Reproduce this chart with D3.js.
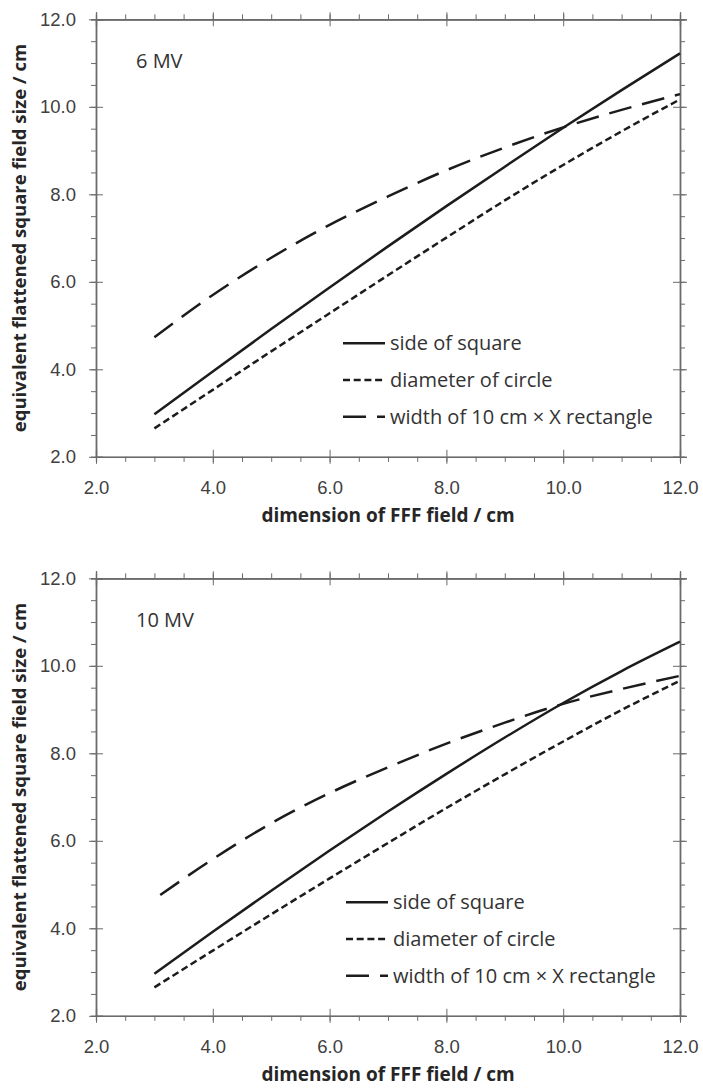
<!DOCTYPE html>
<html>
<head>
<meta charset="utf-8">
<script src="https://cdn.jsdelivr.net/npm/d3@7"></script>
<style>
  body { margin: 0; background: #fff; }
  svg { display: block; font-family: "Open Sans", sans-serif; }
  .tick text { fill: #404040; font-size: 18.5px; }
  .domain { stroke: #6a6a6a; }
  .tick line { stroke: #6a6a6a; }
</style>
</head>
<body>
<div id="chart"></div>
<script>
// field dimension (x) values
var fieldDims = [3, 4, 5, 6, 7, 8, 9, 10, 11, 12];
var rectDims10 = [3.1, 4, 5, 6, 7, 8, 9, 10, 11, 12];

// 6 MV
var square6 = [2.97, 3.95, 4.92, 5.87, 6.81, 7.73, 8.63, 9.52, 10.38, 11.22];
var circle6 = [2.65, 3.53, 4.41, 5.28, 6.15, 7.01, 7.86, 8.67, 9.44, 10.17];
var rect6   = [4.73, 5.70, 6.55, 7.30, 7.95, 8.55, 9.07, 9.53, 9.93, 10.29];

// 10 MV
var square10 = [2.96, 3.92, 4.86, 5.78, 6.67, 7.53, 8.36, 9.15, 9.88, 10.55];
var circle10 = [2.65, 3.49, 4.32, 5.14, 5.95, 6.75, 7.52, 8.27, 8.99, 9.66];
var rect10   = [4.76, 5.58, 6.40, 7.09, 7.68, 8.22, 8.70, 9.13, 9.47, 9.77];

var majorTicks = [2, 4, 6, 8, 10, 12];
var minorTicks = d3.range(2, 12.01, 0.5);
var seriesNames = ["side of square", "diameter of circle", "width of 10 cm \u00d7 X rectangle"];
var dashes = [null, "7,3.7", "23,11"];

var panels = [
  { label: "6 MV", top: 19.3, legX: 343, xs: [fieldDims, fieldDims, fieldDims], ys: [square6, circle6, rect6] },
  { label: "10 MV", top: 578.3, legX: 346, xs: [fieldDims, fieldDims, rectDims10], ys: [square10, circle10, rect10] }
];

var W = 703, H = 1088;
var left = 96, right = 680, plotH = 437.5;

var svg = d3.select("#chart").append("svg")
    .attr("width", W)
    .attr("height", H);

var x = d3.scaleLinear().domain([2, 12]).range([left, right]);
var fmt = d3.format(".1f");

panels.forEach(function(p) {
  var y = d3.scaleLinear().domain([2, 12]).range([p.top + plotH, p.top]);
  var g = svg.append("g");
  var bottom = p.top + plotH;

  // minor ticks, outside
  g.append("g").attr("transform", "translate(0," + bottom + ")")
    .call(d3.axisBottom(x).tickValues(minorTicks).tickSize(5).tickFormat(""));
  g.append("g").attr("transform", "translate(0," + p.top + ")")
    .call(d3.axisTop(x).tickValues(minorTicks).tickSize(5).tickFormat(""));
  g.append("g").attr("transform", "translate(" + left + ",0)")
    .call(d3.axisLeft(y).tickValues(minorTicks).tickSize(5).tickFormat(""));
  g.append("g").attr("transform", "translate(" + right + ",0)")
    .call(d3.axisRight(y).tickValues(minorTicks).tickSize(5).tickFormat(""));

  // major ticks crossing the frame
  g.append("g").attr("transform", "translate(0," + bottom + ")")
    .call(d3.axisBottom(x).tickValues(majorTicks).tickSize(7).tickSizeOuter(0).tickPadding(17).tickFormat(fmt));
  g.append("g").attr("transform", "translate(0," + bottom + ")")
    .call(d3.axisTop(x).tickValues(majorTicks).tickSize(7).tickFormat(""));
  g.append("g").attr("transform", "translate(0," + p.top + ")")
    .call(d3.axisTop(x).tickValues(majorTicks).tickSize(7).tickFormat(""));
  g.append("g").attr("transform", "translate(0," + p.top + ")")
    .call(d3.axisBottom(x).tickValues(majorTicks).tickSize(7).tickFormat(""));
  g.append("g").attr("transform", "translate(" + left + ",0)")
    .call(d3.axisLeft(y).tickValues(majorTicks).tickSize(7).tickSizeOuter(0).tickPadding(13).tickFormat(fmt));
  g.append("g").attr("transform", "translate(" + left + ",0)")
    .call(d3.axisRight(y).tickValues(majorTicks).tickSize(7).tickFormat(""));
  g.append("g").attr("transform", "translate(" + right + ",0)")
    .call(d3.axisRight(y).tickValues(majorTicks).tickSize(7).tickFormat(""));
  g.append("g").attr("transform", "translate(" + right + ",0)")
    .call(d3.axisLeft(y).tickValues(majorTicks).tickSize(7).tickFormat(""));

  g.selectAll(".domain").attr("stroke-width", 1.3);

  // series
  p.ys.forEach(function(vals, i) {
    var pts = vals.map(function(v, j) { return [p.xs[i][j], v]; });
    var line = d3.line()
      .x(function(d) { return x(d[0]); })
      .y(function(d) { return y(d[1]); })
      .curve(d3.curveMonotoneX);
    g.append("path")
      .attr("d", line(pts))
      .attr("fill", "none")
      .attr("stroke", "#1c1c1c")
      .attr("stroke-width", 2.5)
      .attr("stroke-dasharray", dashes[i]);
  });

  // panel label
  g.append("text")
    .attr("x", 136).attr("y", p.top + 49)
    .attr("font-size", 20).attr("fill", "#333")
    .text(p.label);

  // legend
  seriesNames.forEach(function(name, i) {
    var ly = p.top + 324 + i * 36.7;
    g.append("line")
      .attr("x1", p.legX).attr("x2", p.legX + 42)
      .attr("y1", ly).attr("y2", ly)
      .attr("stroke", "#1c1c1c").attr("stroke-width", 2.5)
      .attr("stroke-dasharray", dashes[i]);
    g.append("text")
      .attr("x", p.legX + 47).attr("y", ly + 7)
      .attr("font-size", 20).attr("fill", "#333")
      .text(name);
  });

  // axis titles
  g.append("text")
    .attr("x", (left + right) / 2).attr("y", bottom + 65)
    .attr("text-anchor", "middle")
    .attr("font-size", 19).attr("font-weight", "bold").attr("fill", "#262626")
    .text("dimension of FFF field / cm");
  g.append("text")
    .attr("transform", "translate(26," + (p.top + plotH / 2) + ") rotate(-90)")
    .attr("text-anchor", "middle")
    .attr("font-size", 18.5).attr("font-weight", "bold").attr("fill", "#262626")
    .text("equivalent flattened square field size / cm");
});
</script>
</body>
</html>
